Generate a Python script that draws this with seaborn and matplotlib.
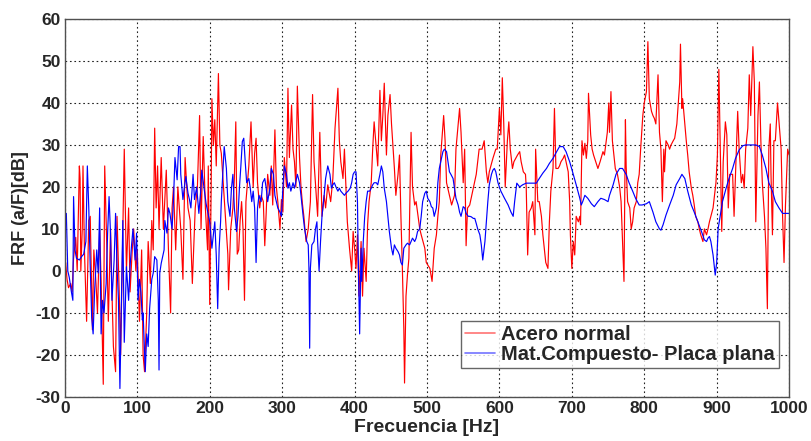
import numpy as np
import pandas as pd
import matplotlib
matplotlib.use("Agg")
import matplotlib.pyplot as plt
import seaborn as sns

# ---- data ----
red_hz = [0,1,3,5,8,10,12,15,17,20,21,22,24,25,27,30,33,35,38,40,43,45,48,50,53,55,58,60,63,65,67,70,72,75,77,80,82,85,88,90,93,95,98,100,103,106,108,110,113,115,118,120,122,124,126,128,130,133,136,140,143,146,148,150,153,156,160,163,166,170,173,176,180,183,186,188,191,194,197,198,
          200,202,203,205,207,209,212,214,216,219,222,225,226,229,232,234,236,238,240,242,244,246,248,250,254,257,260,262,264,266,269,271,274,276,278,280,283,285,287,290,292,294,297,299,301,303,306,308,310,313,315,317,319,321,324,326,328,330,333,336,339,342,344,347,349,352,355,358,360,363,367,370,373,377,379,381,384,386,390,393,396,398,
          400,402,404,406,409,411,413,416,418,420,423,425,427,430,432,435,437,439,441,444,446,449,451,455,457,460,462,464,466,468,469,471,473,475,478,480,483,485,490,492,497,499,504,507,510,513,515,517,519,523,525,527,531,534,538,540,543,545,547,550,552,554,556,559,563,568,572,576,579,582,584,586,591,595,597,
          600,602,604,606,608,611,613,615,618,620,625,628,630,633,636,637,639,641,644,646,649,650,653,655,658,660,662,664,667,669,671,674,676,678,681,683,685,688,690,692,695,697,698,
          700,702,704,706,709,711,712,714,716,718,720,722,723,726,728,730,733,736,739,743,745,749,751,752,754,756,760,763,766,768,770,772,774,775,777,780,782,784,786,789,791,793,795,798,
          800,803,805,807,810,812,814,816,819,821,823,825,827,828,830,833,835,837,840,842,845,847,849,850,852,853,856,858,860,862,865,867,869,871,874,876,878,881,883,886,888,890,892,895,897,899,
          901,903,905,907,909,912,914,916,918,922,924,927,929,931,934,936,938,940,943,945,947,950,952,954,957,959,961,963,966,968,970,972,974,975,977,979,981,984,986,989,991,993,995,998,1000]
red_db = [-10,2,-2,-4,-3,-5,3,8,0,25,22,0,10,25,5,-12,12,13,-14,5,-3,-10,10,-2,-27,25,5,-12,10,-5,-18,-24,13,-5,-20,10,29,0,15,-5,5,10,0,5,-12,5,-20,-24,-10,7,-3,12,5,34,15,25,10,27,10,24,5,-10,15,20,5,20,10,-2,27,15,12,-3,15,20,37,10,32,15,5,25,
          -8,20,41,30,36,25,47,30,28,20,12,4,-4.5,10,15,22,35.5,4,5,12,16.5,10,-7,16.5,25,35.5,20,28,31.6,21,15,18,16.5,6,14,23,18,25,15.7,33.6,20,16.5,10,17,14,27,20,43.5,27,39.5,29,26,20,44,27,20,16,13,7,10,16.5,42,26,18,13,33,13,18,15,20.5,16.5,22,34,43.5,31,26,22,29,11.7,5.4,0,9.4,
          5.4,0.6,8.6,-6,7,-6,5.4,-2.5,11,16.5,21,29,35.5,29,25,43,31,37,44.7,27.6,37,42,35,24.4,18,23,27.6,13,0.6,-13.7,-26.7,-6,-1,3,33,20,15.7,16.5,10,8.6,5.4,2,0.6,-2.5,5.4,8.6,13,16.5,27.6,37,31,21,18,15.7,18,29,35,38.7,33,21,29,6,15,15.7,19,23,29,29,31,23.6,21,23.6,26.8,29,29,
          38.7,32.4,46,35,20,31,35.5,29,24.4,26,27.6,28.4,26,23.6,23,20,3.8,14,15,16.5,8.6,29,16.5,16.5,13,8.6,5.4,2,0.6,11.7,19,24.4,38.7,24.4,24.4,25,26,26.8,27.6,26,23.6,16.5,8.6,
          0.6,7,3.8,13,11.7,13,11,31,27.6,30.4,26.8,31,42.3,32.4,29,27.6,26,24.4,26,28.4,27.6,33,40,33,42.7,31,24.4,23,20,16.5,7,-2.5,36,25,16.5,15,10,11.7,15,16.5,21,23,29,37,
          40,42.7,54.6,41,38,37,36.3,35,46.7,33,29,16.5,29,23.6,31,30,29,30,31,31.6,35,40,45,54,38.7,41,35,31,27.6,23.6,19.7,18,15.7,13,11.7,10,8.6,7,10,8.6,10,11.7,13,15,18,21,
          27.6,48,29,9.4,26,35.5,32.4,15,23,23,13,27.6,38,29,21,23,19.7,29,34,46.7,37,53.4,45,11.7,37,45,31,21,13,5.4,-9,29,35,23,8.6,31,31,40,35.5,29,13,2,15.7,29,27.6]

blue_hz = [0,2,4,6,9,11,12,14,16,20,23,26,29,31,33,35,37,39,41,44,46,48,50,52,54,57,59,61,63,65,68,70,72,74,76,78,80,82,84,85,88,90,92,94,97,99,101,103,105,107,108,110,111,113,115,117,120,122,124,127,129,130,131,133,135,137,138,141,143,145,148,150,152,155,157,159,160,163,165,167,170,172,174,177,179,182,185,188,189,192,195,
           200,203,207,209,211,213,215,216,218,220,223,225,228,230,232,234,237,239,241,243,245,247,249,251,254,256,258,260,262,264,266,268,271,273,276,278,280,283,285,288,290,292,294,297,299,301,303,306,308,310,312,315,317,321,324,326,329,331,334,336,337,338,339,341,344,346,348,349,351,353,355,358,360,363,366,368,370,372,375,377,379,381,386,388,391,394,396,398,
           400,402,404,405,407,409,410,412,414,416,418,421,423,425,427,430,432,435,437,439,441,444,446,448,451,453,455,457,460,462,464,466,468,471,473,476,478,480,483,485,487,490,492,494,497,499,501,504,506,508,510,513,515,517,520,522,524,527,529,531,533,536,538,540,543,545,547,550,552,554,557,559,561,564,566,568,570,573,575,577,580,582,584,586,589,591,593,595,
           598,602,607,612,616,619,621,624,628,632,637,642,646,651,655,660,665,669,674,679,683,688,692,697,701,706,711,713,715,718,722,727,731,736,740,745,750,752,757,761,766,770,775,779,784,788,793,797,
           803,807,812,816,821,823,826,830,835,840,844,849,852,856,860,865,869,874,879,883,886,888,890,892,895,897,898,900,902,905,908,913,917,922,926,931,936,940,947,954,959,963,968,972,977,981,986,991,995,1000]
blue_db = [10,13.7,0,-1.5,-5,-7,17.7,5,3,2.6,3.4,4,7,25,15,1,-11,-15,-5,5,-0.5,15,-15,-7,-10,-3,9,17.7,9,-7,2.6,13.7,1,-7,-28,-8.5,12,-17,-4.5,1,-7,1,6,10,2.6,9,-7,-2,-5,-11.7,-10,-19,-24,-15,-18,-9,-2,-0.5,3.4,2.6,-7,-23.6,-0.5,1.8,3.4,5,12,9,15,13.7,10,17,27,21.7,29.6,29.6,23,17,20,22.5,18.5,17,15,23,17,20,13.7,20,24,20,16,
           11.7,5.4,11.7,3.8,-9,5.4,11.7,16.5,23,29.6,24.4,16.5,13,19.7,23,15,9.4,13,19.7,25,30.8,31.6,26,21,22,19.7,16.5,19,15,2,15,18,16.5,21,22,19.7,16.5,19.7,24.4,23,18,16.5,15,14,13,19.7,25,23,19.7,21,19,21,19.7,23,21,18,13,10,7,6.2,0.6,-18.4,0.6,6.2,7,10,11.7,7,0,7,13,18,22,25,23,19.7,20.5,21,19.7,19,19.7,19,18,18.5,19,19.7,21,23,
           23.6,23.6,16.5,3.8,-15,5.4,-2.5,7,13,16.5,19,19,19.7,20.5,21,21,20.5,23,25,23.6,19.7,16.5,13,9.4,5.4,3.8,6.2,5.4,4.6,3.8,2,1.4,5.4,6.2,6.6,6.2,7,7.8,7,7.8,9.4,10,13,16.5,18.5,19,17.3,16.5,15.3,15,13,15,21,24.4,26.8,28.4,29,28.4,26,23.6,23,22,19.7,17.3,15.7,14,13,15.3,15,13.7,13,13,12.9,12.5,12.5,11.3,10,8.6,6.2,2.6,7,11.7,16.5,20.5,23,24,24.4,23.6,
           21,19,17.3,15.7,14,13,16.5,20.9,20,20.5,20.9,20.9,20.9,20.9,22,23.3,24.4,25.6,26.8,28.4,29.6,29.6,28.4,26,23.6,20.5,17.3,15.7,16.5,18,17.3,16,15.3,16.5,17.3,17,16.5,18,20.5,23,24.4,24.4,23,21,19,17.3,15.7,15.7,
           16,16.5,14,11.7,10,9.7,11,13.3,15.7,18,20.5,22,23,22,19,15.7,14,11.7,9.4,7.4,7,7.8,8.2,7,3.8,0.6,-1,2,10,13.3,16.5,19.7,22,24.4,26.8,28.8,29.8,30,30,30,29.6,27.6,24.4,21,19,16.5,15,13.7,13.7,13.7]

series_names = ["Acero normal", "Mat.Compuesto- Placa plana"]
x_ticks = [0, 100, 200, 300, 400, 500, 600, 700, 800, 900, 1000]
y_ticks = [-30, -20, -10, 0, 10, 20, 30, 40, 50, 60]

df = pd.concat([
    pd.DataFrame({"f": red_hz, "v": red_db, "s": series_names[0]}),
    pd.DataFrame({"f": blue_hz, "v": blue_db, "s": series_names[1]}),
], ignore_index=True)

sns.set_theme(style="white")
plt.rcParams["font.family"] = ["Liberation Sans", "DejaVu Sans"]

fig = plt.figure(figsize=(8.11, 4.41), dpi=100)
ax = fig.add_axes([0.080, 0.100, 0.893, 0.857])

sns.lineplot(data=df, x="f", y="v", hue="s", palette={series_names[0]: "#ff0000", series_names[1]: "#0000ff"},
             estimator=None, sort=False, units="s", linewidth=0.85, ax=ax)

ax.set_xlim(0, 1000)
ax.set_ylim(-30, 60)
ax.set_xticks(x_ticks)
ax.set_yticks(y_ticks)
ax.set_xticklabels([str(t) for t in x_ticks], fontsize=12.5, fontweight="bold")
ax.set_yticklabels([str(t) for t in y_ticks], fontsize=12.5, fontweight="bold")
ax.tick_params(direction="in", length=4, color="#404040", pad=3)
ax.grid(True, color="#222222", linestyle=(0, (1.5, 2.5)), linewidth=0.8)
for sp in ax.spines.values():
    sp.set_color("#505050")
    sp.set_linewidth(1.0)
ax.set_xlabel("Frecuencia [Hz]", fontsize=14, fontweight="bold", labelpad=2)
ax.set_ylabel("FRF (a/F)[dB]", fontsize=13, fontweight="bold", labelpad=5)

handles, labels = ax.get_legend_handles_labels()
leg = ax.legend(handles, labels, loc="lower right", bbox_to_anchor=(0.986, 0.077),
                prop={"weight": "bold", "size": 14.5}, frameon=True, fancybox=False,
                handlelength=1.5, handletextpad=0.3, borderpad=0.2, labelspacing=0.05,
                borderaxespad=0)
leg.get_frame().set_edgecolor("#404040")
leg.get_frame().set_linewidth(1.0)
for ln in leg.get_lines():
    ln.set_linewidth(1.2)
    ln.set_alpha(0.55)

fig.savefig("out.png", dpi=100, facecolor="white")
